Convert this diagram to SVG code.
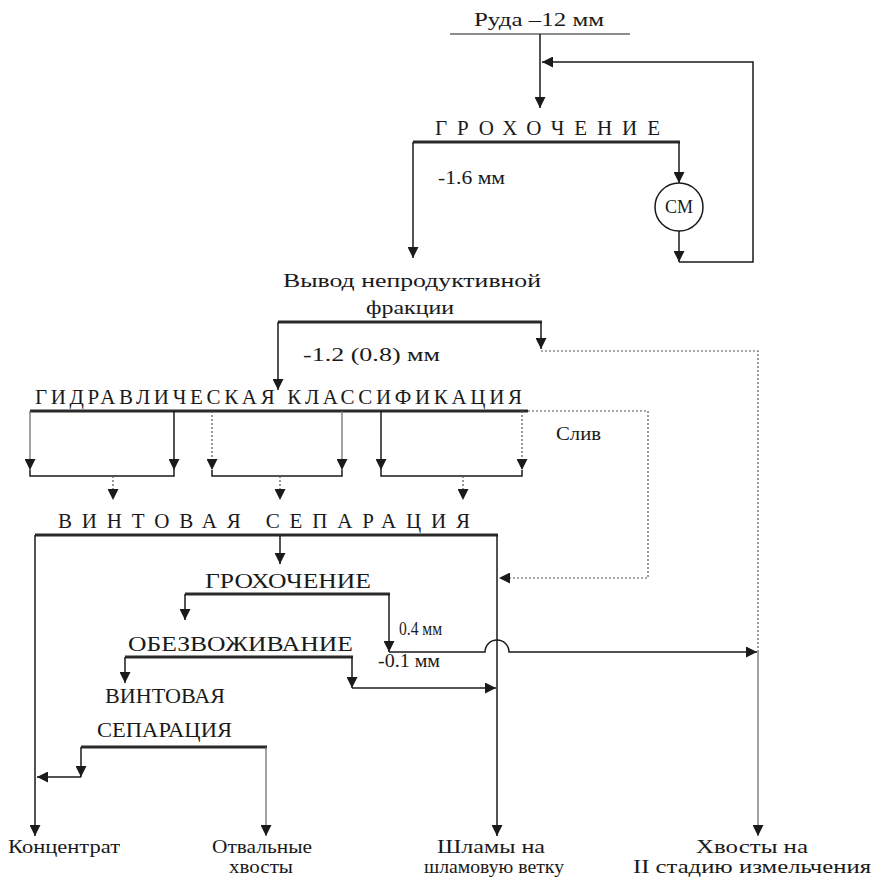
<svg xmlns="http://www.w3.org/2000/svg" width="874" height="879" viewBox="0 0 874 879">
<style>
text{font-family:"Liberation Serif","DejaVu Serif","Times New Roman",serif;fill:#1a1a1a}
.h{font-size:21px}
.m{font-size:20px}
.s{font-size:18px}
.b{font-size:19px}
.c{text-anchor:middle}
.ln{fill:none;stroke:#1a1a1a;stroke-width:1.5}
.gr{fill:none;stroke:#666;stroke-width:1.2}
.dt{fill:none;stroke:#555;stroke-width:1.2;stroke-dasharray:2 2}
.bar{fill:none;stroke:#2a2a2a;stroke-width:3.2}
.thin{fill:none;stroke:#1a1a1a;stroke-width:1.2}
.ar{marker-end:url(#ah)}
</style>
<defs>
<marker id="ah" viewBox="0 0 10 10" refX="10" refY="5" markerWidth="13" markerHeight="11" markerUnits="userSpaceOnUse" orient="auto">
<path d="M0,0 L10,5 L0,10 z" fill="#1a1a1a"/>
</marker>
</defs>

<g id="ore">
<text class="b" x="474" y="26" textLength="130" lengthAdjust="spacingAndGlyphs">Руда –12 мм</text>
<line class="thin" x1="450" y1="34" x2="630" y2="34"/>
</g>

<g id="screen1">
<text class="h" x="435" y="135" textLength="225" lengthAdjust="spacing">ГРОХОЧЕНИЕ</text>
<line class="bar" x1="413" y1="142" x2="680" y2="142"/>
<text class="s" x="438" y="184" textLength="67" lengthAdjust="spacingAndGlyphs">-1.6 мм</text>
</g>

<g id="mill">
<circle cx="679" cy="207" r="24" fill="#fff" stroke="#1a1a1a" stroke-width="1.5"/>
<text class="s c" x="679" y="213">СМ</text>
</g>

<g id="waste">
<text class="b c" x="412" y="287" textLength="258" lengthAdjust="spacingAndGlyphs">Вывод непродуктивной</text>
<text class="b c" x="410" y="314" textLength="88" lengthAdjust="spacingAndGlyphs">фракции</text>
<line class="bar" x1="278" y1="322" x2="542" y2="322"/>
<text class="b" x="303" y="361" textLength="137" lengthAdjust="spacingAndGlyphs">-1.2 (0.8) мм</text>
</g>

<g id="classif">
<text class="h" x="35" y="404" textLength="487" lengthAdjust="spacing">ГИДРАВЛИЧЕСКАЯ КЛАССИФИКАЦИЯ</text>
<line class="bar" x1="30" y1="411" x2="528" y2="411"/>
<text class="b" x="556" y="440" textLength="45" lengthAdjust="spacingAndGlyphs">Слив</text>
</g>

<g id="spiral1">
<text class="h" x="58" y="528" textLength="412" lengthAdjust="spacing">ВИНТОВАЯ СЕПАРАЦИЯ</text>
<line class="bar" x1="35" y1="535" x2="498" y2="535"/>
</g>

<g id="screen2">
<text class="m" x="205" y="588" textLength="166" lengthAdjust="spacingAndGlyphs">ГРОХОЧЕНИЕ</text>
<line class="bar" x1="185" y1="594" x2="390" y2="594"/>
<text class="s" x="399" y="635" textLength="43" lengthAdjust="spacingAndGlyphs">0.4 мм</text>
</g>

<g id="dewater">
<text class="m" x="128" y="651" textLength="225" lengthAdjust="spacingAndGlyphs">ОБЕЗВОЖИВАНИЕ</text>
<line class="bar" x1="125" y1="657" x2="353" y2="657"/>
<text class="s" x="378" y="667" textLength="62" lengthAdjust="spacingAndGlyphs">-0.1 мм</text>
</g>

<g id="spiral2">
<text class="m" x="105" y="703" textLength="120" lengthAdjust="spacingAndGlyphs">ВИНТОВАЯ</text>
<text class="m" x="97" y="737" textLength="135" lengthAdjust="spacingAndGlyphs">СЕПАРАЦИЯ</text>
<line class="bar" x1="81" y1="747" x2="267" y2="747"/>
</g>

<g id="products">
<text class="b" x="8" y="853" textLength="112" lengthAdjust="spacingAndGlyphs">Концентрат</text>
<text class="b c" x="262" y="853" textLength="100" lengthAdjust="spacingAndGlyphs">Отвальные</text>
<text class="b c" x="261" y="873" textLength="64" lengthAdjust="spacingAndGlyphs">хвосты</text>
<text class="b c" x="491" y="853" textLength="108" lengthAdjust="spacingAndGlyphs">Шламы на</text>
<text class="b c" x="494" y="873" textLength="140" lengthAdjust="spacingAndGlyphs">шламовую ветку</text>
<text class="b c" x="752" y="853" textLength="112" lengthAdjust="spacingAndGlyphs">Хвосты на</text>
<text class="b c" x="752" y="873" textLength="238" lengthAdjust="spacingAndGlyphs">II стадию измельчения</text>
</g>

<g id="connectors">
<path class="ln ar" d="M540,34 V108"/>
<path class="ln ar" d="M679,262 H753 V62 H542"/>
<path class="ln ar" d="M679,231 V262"/>
<path class="ln ar" d="M413,142 V258"/>
<path class="ln ar" d="M679,142 V183"/>

<path class="ln ar" d="M278,322 V390"/>
<path class="ln ar" d="M541,322 V349"/>
<path class="dt" d="M541,351 H758 V652"/>
<path class="gr ar" d="M758,652 V836"/>

<path class="gr ar" d="M30,411 V470"/>
<path class="ln ar" d="M174,411 V470"/>
<path class="ln" d="M30,470 V476 H174 V470"/>
<path class="dt ar" d="M113,476 V500"/>
<path class="dt ar" d="M212,411 V470"/>
<path class="gr ar" d="M342,411 V470"/>
<path class="ln" d="M212,470 V476 H342 V470"/>
<path class="dt ar" d="M280,476 V500"/>
<path class="ln ar" d="M381,411 V470"/>
<path class="dt ar" d="M522,411 V470"/>
<path class="ln" d="M381,470 V476 H522 V470"/>
<path class="dt ar" d="M463,476 V500"/>
<path class="dt ar" d="M528,411 H648 V578 H499"/>

<path class="ln ar" d="M35,535 V836"/>
<path class="ln ar" d="M280,535 V564"/>
<path class="ln ar" d="M497,535 V836"/>

<path class="ln ar" d="M185,594 V620"/>
<path class="ln ar" d="M389,594 V652"/>
<path class="ln ar" d="M389,652 H485 A12,12 0 0 1 509,652 H757"/>

<path class="ln ar" d="M125,657 V683"/>
<path class="ln ar" d="M352,657 V688"/>
<path class="ln ar" d="M352,688 H496"/>

<path class="ln ar" d="M81,747 V777"/>
<path class="ln ar" d="M81,777 H37"/>
<path class="gr ar" d="M266,747 V836"/>
</g>
</svg>
